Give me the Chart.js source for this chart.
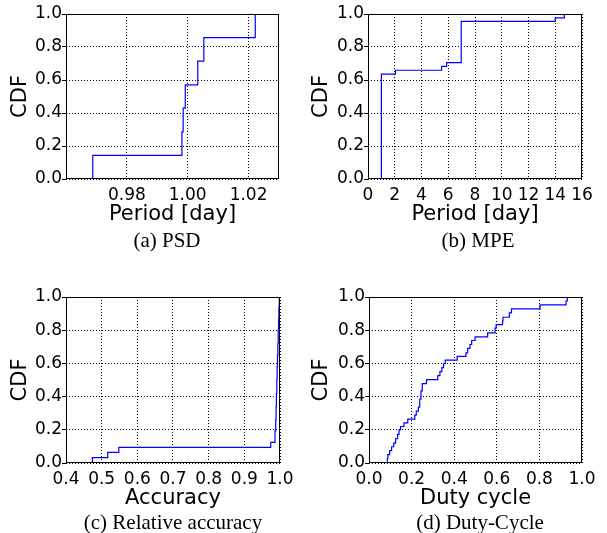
<!DOCTYPE html>
<html>
<head>
<meta charset="utf-8">
<script src="https://cdn.jsdelivr.net/npm/chart.js@4.4.0/dist/chart.umd.min.js"></script>
<style>
    html, body { margin: 0; padding: 0; background: #fff; }
    body { position: relative; width: 607px; height: 533px; overflow: hidden; }
    canvas { position: absolute; }
    .cap {
        position: absolute;
        font-family: "Liberation Serif", "Times New Roman", serif;
        font-size: 21px;
        color: #000;
        transform: translate(-50%, -50%);
        white-space: nowrap;
    }
</style>
</head>
<body>
<canvas id="psd" width="300" height="232" style="left:0;top:0"></canvas>
<canvas id="mpe" width="307" height="232" style="left:300px;top:0"></canvas>
<canvas id="acc" width="300" height="233" style="left:0;top:283px"></canvas>
<canvas id="duty" width="307" height="233" style="left:300px;top:283px"></canvas>
<div class="cap" style="left:167px;top:240px">(a) PSD</div>
<div class="cap" style="left:478px;top:240px">(b) MPE</div>
<div class="cap" style="left:173px;top:522px">(c) Relative accuracy</div>
<div class="cap" style="left:480px;top:522px">(d) Duty-Cycle</div>
<script>
// (a) PSD period estimates and their CDF levels
const psdPeriod = [0.9688, 0.9981, 0.9985, 0.9992, 1.0033, 1.0053, 1.0222];
const psdCdf = [0.143, 0.286, 0.429, 0.571, 0.714, 0.857, 1.0];
const psdTicks = [0.98, 1.00, 1.02];

// (b) MPE period estimates
const mpePeriod = [1.0, 2.05, 5.5, 5.88, 6.97, 14.0, 14.68];
const mpeCdf = [0.636, 0.659, 0.682, 0.705, 0.955, 0.977, 1.0];
const mpeTicks = [0, 2, 4, 6, 8, 10, 12, 14, 16];

// (c) relative accuracy
const accValue = [0.474, 0.517, 0.548, 0.974, 0.986, 0.988, 0.989, 0.990, 0.991,
    0.992, 0.993, 0.994, 0.995, 0.996, 0.997, 0.998];
const accCdf = [0.032, 0.064, 0.094, 0.124, 0.194, 0.26, 0.34, 0.42, 0.50,
    0.58, 0.65, 0.72, 0.80, 0.87, 0.94, 1.0];
const accTicks = [0.4, 0.5, 0.6, 0.7, 0.8, 0.9, 1.0];

// (d) duty cycle
const dutyValue = [0.086, 0.088, 0.097, 0.106, 0.116, 0.125, 0.134, 0.141, 0.148,
    0.164, 0.182, 0.215, 0.222, 0.232, 0.238, 0.244, 0.250, 0.270, 0.323, 0.333,
    0.342, 0.350, 0.358, 0.414, 0.455, 0.463, 0.474, 0.482, 0.498, 0.557, 0.592,
    0.597, 0.627, 0.629, 0.659, 0.669, 0.803, 0.925, 0.931];
const dutyCdf = [0.026, 0.050, 0.074, 0.098, 0.120, 0.146, 0.172, 0.200, 0.220,
    0.242, 0.264, 0.288, 0.312, 0.336, 0.384, 0.434, 0.478, 0.502, 0.526, 0.550,
    0.574, 0.598, 0.620, 0.642, 0.664, 0.690, 0.714, 0.738, 0.760, 0.784, 0.812,
    0.834, 0.856, 0.878, 0.904, 0.928, 0.952, 0.976, 1.0];
const dutyTicks = [0, 0.2, 0.4, 0.6, 0.8, 1.0];

const cdfTicks = [0, 0.2, 0.4, 0.6, 0.8, 1.0];

const TICK_FONT = { family: 'DejaVu Sans', size: 17 };
const TITLE_FONT = { family: 'DejaVu Sans', size: 21 };

// box around the axes like matplotlib
const frame = {
    id: 'frame',
    afterDatasetsDraw(chart) {
        const { ctx, chartArea: a } = chart;
        ctx.save();
        ctx.strokeStyle = '#000';
        ctx.lineWidth = 1;
        ctx.strokeRect(Math.round(a.left) + 0.5, Math.round(a.top) + 0.5,
            Math.round(a.right - a.left) - 1, Math.round(a.bottom - a.top) - 1);
        ctx.restore();
    }
};

function cdfPoints(xs, ys) {
    const pts = [{ x: xs[0], y: 0 }];
    xs.forEach((x, i) => pts.push({ x: x, y: ys[i] }));
    return pts;
}

function makePanel(id, xs, ys, o) {
    const canvas = document.getElementById(id);
    return new Chart(canvas, {
        type: 'line',
        data: {
            datasets: [{
                data: cdfPoints(xs, ys),
                stepped: 'before',
                borderColor: '#0000ff',
                borderWidth: 1.2,
                pointRadius: 0,
                fill: false
            }]
        },
        plugins: [frame],
        options: {
            responsive: false,
            animation: false,
            devicePixelRatio: 1,
            layout: { padding: { top: 14, right: o.right, left: 0, bottom: 0 } },
            plugins: { legend: { display: false }, tooltip: { enabled: false } },
            scales: {
                x: {
                    type: 'linear',
                    min: o.min,
                    max: o.max,
                    afterBuildTicks: s => { s.ticks = o.ticks.map(v => ({ value: v })); },
                    afterFit: s => { s.height = 53; },
                    ticks: {
                        callback: v => o.fmt(v),
                        font: TICK_FONT,
                        color: '#000',
                        maxRotation: 0,
                        autoSkip: false,
                        padding: 6
                    },
                    grid: { color: '#000', lineWidth: 1, drawTicks: false },
                    border: { display: false, dash: [1, 2] },
                    title: {
                        display: true,
                        text: o.xTitle,
                        font: TITLE_FONT,
                        color: '#000',
                        padding: { top: 0, bottom: 5 }
                    }
                },
                y: {
                    type: 'linear',
                    min: 0,
                    max: 1,
                    afterBuildTicks: s => { s.ticks = cdfTicks.map(v => ({ value: v })); },
                    afterFit: s => { s.width = o.yWidth; },
                    ticks: {
                        callback: v => v.toFixed(1),
                        font: TICK_FONT,
                        color: '#000',
                        padding: 0
                    },
                    grid: { color: '#000', lineWidth: 1, drawTicks: true, tickLength: 4, tickColor: '#000' },
                    border: { display: false, dash: [1, 2] },
                    title: {
                        display: true,
                        text: 'CDF',
                        font: TITLE_FONT,
                        color: '#000',
                        padding: { top: o.yTitlePad, bottom: 0 }
                    }
                }
            }
        }
    });
}

makePanel('psd', psdPeriod, psdCdf, {
    min: 0.96, max: 1.03, ticks: psdTicks, fmt: v => v.toFixed(2),
    xTitle: 'Period [day]', yWidth: 66, right: 21, yTitlePad: 8
});
makePanel('mpe', mpePeriod, mpeCdf, {
    min: 0, max: 16, ticks: mpeTicks, fmt: v => String(v),
    xTitle: 'Period [day]', yWidth: 68, right: 25, yTitlePad: 9
});
makePanel('acc', accValue, accCdf, {
    min: 0.4, max: 1.0, ticks: accTicks, fmt: v => v.toFixed(1),
    xTitle: 'Accuracy', yWidth: 66, right: 20, yTitlePad: 8
});
makePanel('duty', dutyValue, dutyCdf, {
    min: 0, max: 1.0, ticks: dutyTicks, fmt: v => v.toFixed(1),
    xTitle: 'Duty cycle', yWidth: 69, right: 25, yTitlePad: 9
});
</script>
</body>
</html>
